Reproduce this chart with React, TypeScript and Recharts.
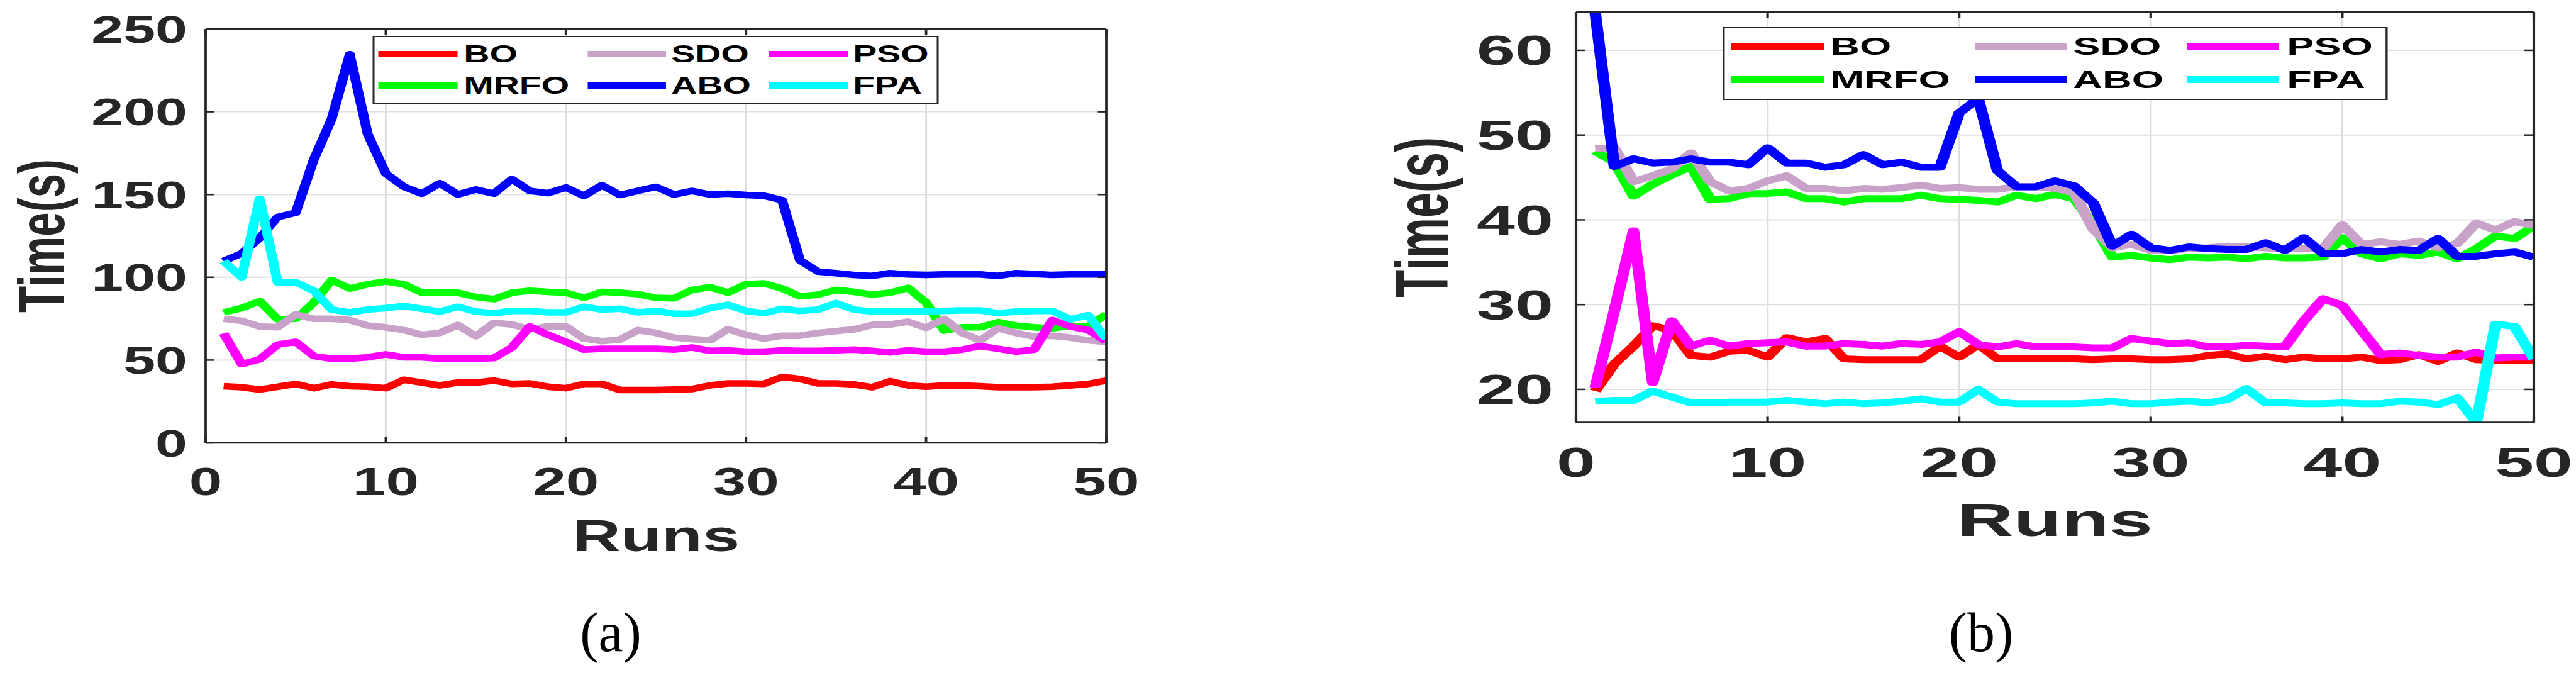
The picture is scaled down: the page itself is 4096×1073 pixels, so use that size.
import React from 'react'
import { LineChart, Line, XAxis, YAxis, CartesianGrid, Legend } from 'recharts'

// ---- data ----
const runs = [
  1, 2, 3, 4, 5, 6, 7, 8, 9, 10, 11, 12, 13, 14, 15, 16, 17, 18, 19, 20, 21, 22, 23, 24, 25,
  26, 27, 28, 29, 30, 31, 32, 33, 34, 35, 36, 37, 38, 39, 40, 41, 42, 43, 44, 45, 46, 47, 48, 49, 50,
]
const seriesNames = ['BO', 'MRFO', 'SDO', 'ABO', 'PSO', 'FPA']
const seriesColors = ['#ff0000', '#00ff00', '#c8a2c8', '#0000ff', '#ff00ff', '#00ffff']
const xTicks = [0, 10, 20, 30, 40, 50]
const yTicksA = [0, 50, 100, 150, 200, 250]
const yTicksB = [20, 30, 40, 50, 60]
const yDomainA = [0, 250]
const yDomainB = [16.1, 64.5]

// (a)
const boA = [
  34.2, 33.6, 32.2, 33.9, 35.6, 33.0, 35.3, 34.2, 33.9, 33.0,
  38.1, 36.4, 34.7, 36.4, 36.4, 37.6, 35.6, 35.9, 33.9, 33.0,
  35.6, 35.6, 31.9, 31.9, 31.9, 32.2, 32.5, 34.7, 35.9, 35.9,
  35.6, 39.8, 38.6, 35.9, 35.9, 35.3, 33.6, 37.3, 34.7, 33.9,
  34.7, 34.7, 34.2, 33.6, 33.6, 33.6, 33.9, 34.7, 35.6, 37.6,
]
const mrfoA = [
  78.8, 81.4, 85.6, 74.6, 74.9, 84.7, 98.3, 93.2, 95.8, 97.5,
  95.8, 90.7, 90.7, 90.7, 88.1, 86.8, 90.7, 91.9, 91.2, 90.7,
  87.6, 91.2, 90.7, 89.8, 87.6, 87.3, 92.4, 94.0, 90.7, 95.8,
  96.3, 93.2, 88.5, 89.5, 92.4, 91.2, 89.5, 90.7, 93.6, 84.7,
  67.8, 69.8, 69.8, 72.9, 70.8, 69.8, 69.2, 70.8, 70.3, 77.6,
]
const sdoA = [
  74.9, 73.7, 70.3, 69.8, 77.6, 74.9, 74.9, 74.2, 70.8, 69.8,
  68.1, 65.3, 66.4, 71.2, 64.4, 72.5, 71.5, 68.6, 70.3, 70.3,
  63.0, 61.4, 62.4, 68.1, 66.4, 63.6, 62.7, 61.9, 68.6, 65.3,
  63.0, 64.7, 64.7, 66.4, 67.5, 68.6, 71.2, 71.5, 73.2, 69.5,
  74.9, 66.4, 61.9, 69.2, 66.4, 64.1, 64.7, 63.6, 61.9, 61.0,
]
const aboA = [
  109.8, 114.4, 123.7, 136.4, 139.0, 171.0, 195.8, 234.7, 186.4, 162.7,
  154.7, 150.5, 156.8, 150.0, 153.0, 150.5, 159.3, 152.2, 150.8, 154.2,
  149.2, 155.6, 149.7, 152.2, 154.6, 150.0, 152.2, 150.0, 150.5, 149.7,
  149.2, 146.6, 110.2, 103.4, 102.5, 101.4, 100.8, 102.5, 101.7, 101.4,
  101.7, 101.7, 101.7, 100.8, 102.5, 102.0, 101.4, 101.7, 101.7, 101.7,
]
const psoA = [
  66.1, 47.5, 50.5, 59.3, 61.0, 52.5, 50.8, 50.8, 51.7, 53.4,
  51.7, 51.7, 50.8, 50.8, 50.8, 51.2, 57.6, 70.3, 65.3, 61.0,
  56.3, 56.8, 56.8, 56.8, 56.8, 56.3, 57.6, 55.6, 55.9, 55.1,
  55.1, 55.9, 55.6, 55.6, 55.9, 56.3, 55.6, 54.6, 55.9, 55.1,
  55.1, 56.3, 58.5, 56.8, 55.1, 56.3, 74.2, 70.3, 68.1, 61.4,
]
const fpaA = [
  109.8, 100.0, 147.5, 97.0, 97.0, 91.9, 80.5, 78.8, 80.5, 81.4,
  82.7, 81.0, 79.3, 82.2, 79.3, 78.3, 79.7, 79.7, 78.8, 78.8,
  82.2, 80.5, 81.0, 78.8, 79.7, 78.0, 78.0, 81.4, 83.4, 79.7,
  78.3, 81.0, 79.7, 80.5, 84.4, 80.5, 79.3, 79.3, 79.3, 79.3,
  79.7, 80.0, 80.0, 78.3, 79.3, 79.7, 79.7, 74.6, 77.1, 62.7,
]

// (b)
const boB = [
  19.8, 23.0, 25.1, 27.5, 27.0, 24.0, 23.8, 24.5, 24.6, 23.8,
  26.1, 25.6, 26.0, 23.6, 23.5, 23.5, 23.5, 23.5, 25.1, 23.8,
  25.3, 23.6, 23.6, 23.6, 23.6, 23.6, 23.5, 23.6, 23.6, 23.5,
  23.5, 23.6, 24.0, 24.2, 23.6, 23.9, 23.5, 23.8, 23.6, 23.6,
  23.8, 23.4, 23.5, 24.1, 23.3, 24.3, 23.5, 23.4, 23.4, 23.4,
]
const mrfoB = [
  48.1, 46.8, 42.8, 44.2, 45.3, 46.3, 42.4, 42.5, 43.1, 43.1,
  43.3, 42.5, 42.5, 42.1, 42.5, 42.5, 42.5, 42.9, 42.5, 42.4,
  42.3, 42.1, 42.9, 42.5, 43.0, 42.5, 39.5, 35.6, 35.8, 35.5,
  35.3, 35.6, 35.5, 35.6, 35.4, 35.7, 35.5, 35.5, 35.6, 37.9,
  36.0, 35.4, 36.0, 35.8, 36.2, 35.4, 36.6, 38.1, 37.8, 39.3,
]
const sdoB = [
  48.4, 48.5, 44.5, 45.2, 46.0, 47.9, 44.5, 43.4, 43.7, 44.6,
  45.2, 43.7, 43.7, 43.4, 43.7, 43.6, 43.8, 44.1, 43.7, 43.8,
  43.6, 43.6, 43.9, 43.9, 43.7, 43.2, 38.9, 36.7, 37.1, 36.4,
  36.4, 36.6, 36.7, 36.9, 36.8, 36.7, 36.6, 36.6, 36.6, 39.4,
  37.1, 37.4, 37.1, 37.5, 36.7, 37.2, 39.6, 38.8, 39.8, 39.3,
]
const aboB = [
  64.5, 46.3, 47.2, 46.7, 46.8, 47.2, 46.8, 46.8, 46.5, 48.5,
  46.7, 46.7, 46.2, 46.5, 47.7, 46.5, 46.8, 46.2, 46.2, 52.6,
  54.3, 45.8, 43.9, 43.9, 44.6, 44.0, 42.0, 36.9, 38.3, 36.7,
  36.4, 36.8, 36.6, 36.5, 36.5, 37.3, 36.4, 37.9, 36.0, 36.0,
  36.5, 36.2, 36.5, 36.4, 37.8, 35.7, 35.7, 36.0, 36.2, 35.6,
]
const psoB = [
  20.2, 29.3, 38.7, 20.8, 28.1, 25.1, 25.8, 25.1, 25.4, 25.5,
  25.6, 25.1, 25.1, 25.4, 25.3, 25.1, 25.4, 25.3, 25.6, 26.8,
  25.3, 25.0, 25.4, 25.0, 25.0, 25.0, 24.9, 24.9, 26.0, 25.7,
  25.4, 25.5, 25.0, 25.0, 25.2, 25.1, 25.0, 28.1, 30.7, 29.9,
  27.0, 24.1, 24.3, 24.0, 23.8, 23.8, 24.4, 23.7, 23.8, 23.8,
]
const fpaB = [
  18.6, 18.7, 18.7, 19.8, 19.1, 18.4, 18.4, 18.5, 18.5, 18.5,
  18.7, 18.5, 18.3, 18.5, 18.3, 18.4, 18.6, 18.9, 18.5, 18.5,
  20.0, 18.5, 18.3, 18.3, 18.3, 18.3, 18.4, 18.6, 18.3, 18.3,
  18.5, 18.6, 18.4, 18.8, 20.1, 18.4, 18.4, 18.3, 18.3, 18.4,
  18.3, 18.3, 18.6, 18.5, 18.2, 19.0, 16.1, 27.7, 27.4, 23.6,
]

// ---- styling ----
const PAGE_W = 4096
const PAGE_H = 1073
const AXIS = '#262626'
const GRID = '#dedede'
const SANS = '"Liberation Sans", Arial, Helvetica, sans-serif'
const SERIF = '"Liberation Serif", "Times New Roman", serif'
const TICK = 9

function buildRows(series: number[][]) {
  return runs.map((run, i) => {
    const row: Record<string, number> = { run }
    seriesNames.forEach((name, k) => {
      row[name] = series[k][i]
    })
    return row
  })
}

// all positions below are in final page pixels; the panel is drawn narrow and
// stretched horizontally, like the exported figure
type Panel = {
  caption: string
  captionX: number
  left: number
  width: number
  stretch: number
  plot: { l: number; r: number; t: number; b: number }
  yDomain: number[]
  yTicks: number[]
  series: number[][]
  lineWidth: number
  yFont: number
  yLabelRight: number
  xFont: number
  xDrop: number
  runsFont: number
  runsDrop: number
  timeFont: number
  timeX: number
  legend: {
    l: number
    r: number
    t: number
    b: number
    font: number
    rows: number[]
    lines: number[][]
    texts: number[]
  }
}

const panelA: Panel = {
  caption: '(a)',
  captionX: 971,
  left: 0,
  width: 1950,
  stretch: 1.5,
  plot: { l: 327, r: 1759, t: 46, b: 704 },
  yDomain: yDomainA,
  yTicks: yTicksA,
  series: [boA, mrfoA, sdoA, aboA, psoA, fpaA],
  lineWidth: 10.5,
  yFont: 61,
  yLabelRight: 298,
  xFont: 63,
  xDrop: 83,
  runsFont: 71,
  runsDrop: 172,
  timeFont: 69,
  timeX: 102,
  legend: {
    l: 592, r: 1493, t: 57, b: 165, font: 38,
    rows: [86.5, 136.5],
    lines: [[602.5, 728], [935, 1060], [1224, 1350]],
    texts: [738, 1068, 1357],
  },
}

const panelB: Panel = {
  caption: '(b)',
  captionX: 3150,
  left: 2100,
  width: 2000,
  stretch: 1.66,
  plot: { l: 2506, r: 4029, t: 19.3, b: 671.5 },
  yDomain: yDomainB,
  yTicks: yTicksB,
  series: [boB, mrfoB, sdoB, aboB, psoB, fpaB],
  lineWidth: 11,
  yFont: 66,
  yLabelRight: 2470,
  xFont: 67,
  xDrop: 86.5,
  runsFont: 75,
  runsDrop: 180.5,
  timeFont: 72,
  timeX: 2302,
  legend: {
    l: 2739, r: 3796, t: 43.4, b: 159.5, font: 39,
    rows: [73.8, 127],
    lines: [[2754, 2900.5], [3141, 3287], [3479, 3624]],
    texts: [2911, 3297, 3637],
  },
}

function ChartPanel({ p }: { p: Panel }) {
  const s = p.stretch
  const u = (x: number) => (x - p.left) / s
  const W = p.width / s
  const plotL = u(p.plot.l)
  const plotR = u(p.plot.r)
  const XH = 300
  const rows = buildRows(p.series)

  const yTick = (props: any) => (
    <text
      x={props.x}
      y={props.y}
      dy={p.yFont * 0.355}
      textAnchor="end"
      fontFamily={SANS}
      fontWeight="bold"
      fontSize={p.yFont}
      fill={AXIS}
    >
      {props.payload.value}
    </text>
  )
  const xTick = (props: any) => (
    <text
      x={props.x}
      y={props.y}
      textAnchor="middle"
      fontFamily={SANS}
      fontWeight="bold"
      fontSize={p.xFont}
      fill={AXIS}
    >
      {props.payload.value}
    </text>
  )
  const noTick = () => <g />

  const runsLabel = (props: any) => {
    const vb = props.viewBox || {}
    const cx = vb.width ? vb.x + vb.width / 2 : (plotL + plotR) / 2
    return (
      <text
        x={cx}
        y={p.plot.b + p.runsDrop}
        textAnchor="middle"
        fontFamily={SANS}
        fontWeight="bold"
        fontSize={p.runsFont}
        fill={AXIS}
      >
        Runs
      </text>
    )
  }
  const timeLabel = (props: any) => {
    const vb = props.viewBox || {}
    const cy = vb.height ? vb.y + vb.height / 2 : (p.plot.t + p.plot.b) / 2
    const tx = u(p.timeX)
    return (
      <text
        transform={`translate(${tx},${cy}) rotate(-90)`}
        textAnchor="middle"
        fontFamily={SANS}
        fontWeight="bold"
        fontSize={p.timeFont}
        fill={AXIS}
      >
        Time(s)
      </text>
    )
  }

  const lg = p.legend
  const boxL = u(lg.l)
  const boxW = u(lg.r) - boxL
  const boxH = lg.b - lg.t
  const bw = 2.5
  const renderLegend = () => (
    <div
      style={{
        position: 'relative',
        width: boxW,
        height: boxH,
        boxSizing: 'border-box',
        border: `${bw}px solid ${AXIS}`,
        background: '#fff',
      }}
    >
      {seriesNames.map((name, k) => {
        const col = Math.floor(k / 2)
        const row = k % 2
        const cy = lg.rows[row] - lg.t - bw
        const x1 = u(lg.lines[col][0]) - boxL - bw
        const x2 = u(lg.lines[col][1]) - boxL - bw
        return (
          <React.Fragment key={name}>
            <div
              style={{
                position: 'absolute',
                left: x1,
                top: cy - p.lineWidth / 2,
                width: x2 - x1,
                height: p.lineWidth,
                background: seriesColors[k],
              }}
            />
            <div
              style={{
                position: 'absolute',
                left: u(lg.texts[col]) - boxL - bw,
                top: cy,
                transform: 'translateY(-50%)',
                fontFamily: SANS,
                fontWeight: 'bold',
                fontSize: lg.font,
                lineHeight: `${lg.font}px`,
                color: '#000',
                whiteSpace: 'nowrap',
              }}
            >
              {name}
            </div>
          </React.Fragment>
        )
      })}
    </div>
  )

  return (
    <div
      style={{
        position: 'absolute',
        left: p.left,
        top: 0,
        width: W,
        height: PAGE_H,
        transform: `scaleX(${s})`,
        transformOrigin: '0 0',
      }}
    >
      <LineChart
        width={W}
        height={PAGE_H}
        data={rows}
        margin={{ top: p.plot.t - 1, right: W - plotR - 1, bottom: PAGE_H - p.plot.b - XH, left: 0 }}
      >
        <CartesianGrid stroke={GRID} strokeWidth={2} />
        <XAxis
          dataKey="run"
          type="number"
          domain={[0, 50]}
          ticks={xTicks}
          interval={0}
          allowDataOverflow
          height={XH}
          tickSize={-TICK}
          tickMargin={p.xDrop + TICK}
          tick={xTick}
          axisLine={{ stroke: AXIS, strokeWidth: 2.5 }}
          tickLine={{ stroke: AXIS, strokeWidth: 2.5 }}
          label={runsLabel}
        />
        <XAxis
          xAxisId="top"
          orientation="top"
          dataKey="run"
          type="number"
          domain={[0, 50]}
          ticks={xTicks}
          interval={0}
          allowDataOverflow
          height={1}
          tickSize={-TICK}
          tick={noTick}
          axisLine={{ stroke: AXIS, strokeWidth: 2.5 }}
          tickLine={{ stroke: AXIS, strokeWidth: 2.5 }}
        />
        <YAxis
          type="number"
          domain={p.yDomain}
          ticks={p.yTicks}
          interval={0}
          allowDataOverflow
          width={plotL}
          tickSize={-TICK}
          tickMargin={plotL + TICK - u(p.yLabelRight)}
          tick={yTick}
          axisLine={{ stroke: AXIS, strokeWidth: 2.5 }}
          tickLine={{ stroke: AXIS, strokeWidth: 2.5 }}
          label={timeLabel}
        />
        <YAxis
          yAxisId="right"
          orientation="right"
          type="number"
          domain={p.yDomain}
          ticks={p.yTicks}
          interval={0}
          allowDataOverflow
          width={1}
          tickSize={-TICK}
          tick={noTick}
          axisLine={{ stroke: AXIS, strokeWidth: 2.5 }}
          tickLine={{ stroke: AXIS, strokeWidth: 2.5 }}
        />
        <Legend
          layout="vertical"
          verticalAlign="middle"
          align="center"
          content={renderLegend}
          wrapperStyle={{ position: 'absolute', left: boxL, top: lg.t, width: boxW, height: boxH }}
        />
        {seriesNames.map((name, k) => (
          <Line
            key={name}
            type="linear"
            dataKey={name}
            name={name}
            stroke={seriesColors[k]}
            strokeWidth={p.lineWidth}
            strokeLinejoin="round"
            dot={false}
            activeDot={false}
            isAnimationActive={false}
          />
        ))}
      </LineChart>
    </div>
  )
}

export default function App() {
  return (
    <div
      style={{
        position: 'absolute',
        left: 0,
        top: 0,
        width: PAGE_W,
        height: PAGE_H,
        background: '#fff',
        overflow: 'hidden',
      }}
    >
      <ChartPanel p={panelA} />
      <ChartPanel p={panelB} />
      <svg
        width={PAGE_W}
        height={PAGE_H}
        style={{ position: 'absolute', left: 0, top: 0, pointerEvents: 'none' }}
      >
        {[panelA, panelB].map((p) => (
          <text
            key={p.caption}
            x={p.captionX}
            y={1035}
            textAnchor="middle"
            fontFamily={SERIF}
            fontSize={88}
            fill="#000"
          >
            {p.caption}
          </text>
        ))}
      </svg>
    </div>
  )
}
